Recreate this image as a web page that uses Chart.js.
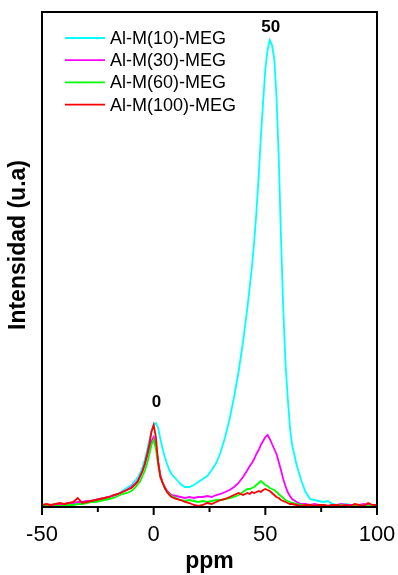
<!DOCTYPE html>
<html>
<head>
<meta charset="utf-8">
<script src="https://cdn.jsdelivr.net/npm/chart.js@4/dist/chart.umd.min.js"></script>
<style>
  html, body { margin: 0; padding: 0; background: #fff; }
  #wrap { width: 398px; height: 575px; }
</style>
</head>
<body>
<div id="wrap"><canvas id="nmr"></canvas></div>
<script>
// chemical shift grid (ppm)
const ppm = [-50,-48,-46,-44,-42,-40,-38,-36,-34,-32,-30,-28,-26,-24,-22,-20,-18,-16,-14,-12,-10,-8,
  -7,-6,-5,-4,-3,-2,-1,0,1,2,3,4,5,6,7,
  8,10,12,14,16,18,20,22,24,26,28,30,32,34,36,38,40,42,
  43,44,45,46,47,48,49,50,51,52,53,54,55,56,57,58,59,60,61,
  62,64,66,68,70,72,74,76,78,80,82,84,86,88,90,92,94,96,98,100];

const labels = ['Al-M(10)-MEG', 'Al-M(30)-MEG', 'Al-M(60)-MEG', 'Al-M(100)-MEG'];
const colors = ['#00FFFF', '#FF00FF', '#00FF00', '#FF0000'];

const m10 = [2,2,2,3,2,3,3,4,4,5,5,6,7,8,9,10,12,13,16,19,22,27,
  30,34,40,47,56,66,76,82,84,79,68,58,50,43,37,
  33,28,23,20,20,22,25,28,31,37,44,55,70,88,110,135,165,200,
  220,240,265,295,330,370,405,438,457,467,462,448,410,350,270,200,145,110,80,
  62,42,27,15,8,7,6,5,6,3,2,2,3,2,2,2,1,2,2,1];
const m30 = [1,2,2,2,3,3,4,4,5,5,6,6,7,8,9,10,11,13,15,17,20,24,
  27,31,36,42,50,58,66,70,62,45,32,25,20,16,14,
  12,11,10,9,10,9,10,10,11,10,12,13,15,17,20,24,30,37,
  41,44,48,53,57,62,66,70,72,68,63,58,53,45,37,28,21,15,11,
  8,5,3,3,2,3,2,2,1,2,2,3,2,2,2,2,3,2,2,1];
const m60 = [1,1,0,1,1,1,2,2,3,3,4,5,5,6,7,8,9,11,13,14,16,20,
  23,26,31,36,43,52,62,67,58,42,30,24,19,15,13,
  11,9,7,6,7,6,5,6,5,6,7,7,8,9,10,12,15,18,
  18,19,20,22,24,26,24,22,21,19,18,17,15,13,11,9,7,6,5,
  4,3,2,2,2,1,1,2,1,1,1,2,1,1,1,2,1,1,1,1];
const m100 = [2,3,2,3,4,3,4,5,9,4,5,6,7,8,9,10,12,13,15,17,19,23,
  26,31,36,43,52,62,75,82,70,45,30,24,19,15,12,
  10,8,7,5,4,2,1,2,4,3,5,7,8,10,12,14,12,14,
  13,15,14,15,16,15,17,18,17,16,14,12,10,9,7,6,5,4,3,
  3,2,1,2,2,1,2,2,1,2,2,1,2,1,3,2,1,4,2,2];

const series = [m10, m30, m60, m100];

// peak annotations
const peakText = ['0', '50'];
const peakX = [1.3, 52.4];
const peakY = [105, 480];

const FONT = "'Liberation Sans', Arial, sans-serif";

const datasets = series.map((s, i) => ({
  label: labels[i],
  data: s.map((v, j) => ({ x: ppm[j], y: v })),
  borderColor: colors[i],
  borderWidth: 1.8,
  pointRadius: 0,
  tension: 0,
  fill: false,
  order: 3 - i
}));

const framePlugin = {
  id: 'frame',
  afterDraw(chart) {
    const { ctx, chartArea: a, scales } = chart;
    const xs = scales.x;
    ctx.save();
    ctx.strokeStyle = '#000';
    ctx.lineWidth = 2;
    ctx.strokeRect(a.left, a.top, a.right - a.left, a.bottom - a.top);
    // ticks
    [-50, -25, 0, 25, 50, 75, 100].forEach(v => {
      const px = xs.getPixelForValue(v);
      const len = v % 50 === 0 ? 8 : 5;
      ctx.beginPath();
      ctx.moveTo(px, a.bottom);
      ctx.lineTo(px, a.bottom + len);
      ctx.stroke();
    });
    // y title
    ctx.fillStyle = '#000';
    ctx.font = 'bold 23px ' + FONT;
    ctx.textAlign = 'center';
    ctx.textBaseline = 'middle';
    ctx.translate(19, 245);
    ctx.rotate(-Math.PI / 2);
    ctx.fillText('Intensidad (u.a)', 0, 0);
    ctx.restore();

    // peak labels
    ctx.save();
    ctx.fillStyle = '#000';
    ctx.font = 'bold 17px ' + FONT;
    ctx.textAlign = 'center';
    ctx.textBaseline = 'middle';
    peakText.forEach((t, i) => {
      ctx.fillText(t, xs.getPixelForValue(peakX[i]), scales.y.getPixelForValue(peakY[i]));
    });
    ctx.restore();

    // legend
    ctx.save();
    ctx.font = '18px ' + FONT;
    ctx.textBaseline = 'middle';
    ctx.textAlign = 'left';
    labels.forEach((l, i) => {
      const y = a.top + 26 + i * 22.2;
      ctx.strokeStyle = colors[i];
      ctx.lineWidth = 1.8;
      ctx.beginPath();
      ctx.moveTo(a.left + 23, y);
      ctx.lineTo(a.left + 63, y);
      ctx.stroke();
      ctx.fillStyle = '#000';
      ctx.fillText(l, a.left + 68, y + 1);
    });
    ctx.restore();
  }
};

new Chart(document.getElementById('nmr'), {
  type: 'line',
  data: { datasets },
  options: {
    responsive: true,
    maintainAspectRatio: false,
    animation: false,
    layout: { padding: { left: 0, right: 21, top: 12, bottom: 0 } },
    plugins: { legend: { display: false }, tooltip: { enabled: false } },
    scales: {
      x: {
        type: 'linear',
        min: -50,
        max: 100,
        grid: { display: false },
        border: { display: false },
        ticks: {
          stepSize: 50,
          padding: 7,
          color: '#000',
          font: { family: FONT, size: 22 },
          callback: v => (v % 50 === 0 ? String(v) : '')
        },
        title: {
          display: true,
          text: 'ppm',
          color: '#000',
          font: { family: FONT, size: 23, weight: 'bold' },
          padding: { top: 0, bottom: 0 }
        },
        afterFit: s => { s.height = 68; s.paddingLeft = 0; s.paddingRight = 0; }
      },
      y: {
        min: 0,
        max: 495,
        grid: { display: false },
        border: { display: false },
        ticks: { display: false },
        afterFit: s => { s.width = 42; }
      }
    }
  },
  plugins: [framePlugin]
});
</script>
</body>
</html>
